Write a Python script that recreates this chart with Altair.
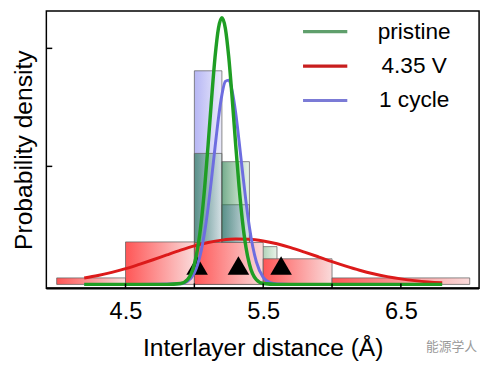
import altair as alt
import pandas as pd

# ---------------- data ----------------
# histogram bins (interlayer distance, Å) and heights (arb. density units)
red_start = [4.0, 4.5, 5.0, 5.5, 6.0]
red_end = [4.5, 5.0, 5.5, 6.0, 7.0]
red_h = [0.055, 0.36, 0.355, 0.217, 0.055]

green_start = [5.0, 5.2, 5.4]
green_end = [5.2, 5.4, 5.6]
green_h = [1.11, 1.04, 0.32]

blue_start = [5.0, 5.2]
blue_end = [5.2, 5.4]
blue_h = [1.81, 0.675]

# fitted curves
red_x = [4.2, 4.3, 4.4, 4.5, 4.6, 4.7, 4.8, 4.9, 5.0, 5.1, 5.2, 5.3, 5.4, 5.5,
         5.6, 5.7, 5.8, 5.9, 6.0, 6.1, 6.2, 6.3, 6.4, 6.5, 6.6, 6.7, 6.8]
red_y = [0.054, 0.075, 0.102, 0.133, 0.170, 0.209, 0.250, 0.290, 0.326, 0.355,
         0.375, 0.384, 0.382, 0.368, 0.344, 0.312, 0.274, 0.234, 0.193, 0.155,
         0.120, 0.090, 0.066, 0.047, 0.032, 0.021, 0.014]

green_x = [4.2, 4.5, 4.8, 4.9, 4.95, 5.0, 5.025, 5.05, 5.075, 5.1, 5.125, 5.15,
           5.175, 5.2, 5.225, 5.25, 5.275, 5.3, 5.325, 5.35, 5.375, 5.4, 5.45,
           5.5, 5.6, 6.0, 6.5, 6.8]
green_y = [0.0, 0.0, 0.0, 0.007, 0.040, 0.171, 0.313, 0.529, 0.824, 1.185, 1.572,
           1.923, 2.171, 2.26, 2.171, 1.923, 1.572, 1.185, 0.824, 0.529, 0.313,
           0.171, 0.040, 0.007, 0.0, 0.0, 0.0, 0.0]

blue_x = [4.2, 4.6, 4.9, 4.95, 5.0, 5.025, 5.05, 5.075, 5.1, 5.125, 5.15, 5.175,
          5.2, 5.225, 5.25, 5.275, 5.3, 5.325, 5.35, 5.375, 5.4, 5.425, 5.45,
          5.5, 5.55, 5.6, 5.7, 6.0]
blue_y = [0.0, 0.0, 0.005, 0.026, 0.098, 0.173, 0.286, 0.446, 0.653, 0.898,
          1.160, 1.409, 1.606, 1.720, 1.731, 1.636, 1.454, 1.212, 0.950, 0.700,
          0.484, 0.314, 0.192, 0.059, 0.014, 0.003, 0.0, 0.0]

# mean markers
tri_x = [5.02, 5.32, 5.63]
tri_y = [0.16, 0.16, 0.16]

x_ticks = [4.5, 5.0, 5.5, 6.0, 6.5]
x_labels = [4.5, 5.5, 6.5]
y_ticks = [1, 2]

legend_labels = ["pristine", "4.35 V", "1 cycle"]
legend_colors = ["#5f9f6c", "#c81e1e", "#7b7bd6"]

FONT = "Liberation Sans"

# ---------------- scales / axes ----------------
xs = alt.Scale(domain=[3.925, 7.068], nice=False, zero=False)
ys = alt.Scale(domain=[-0.0333, 2.3167], nice=False, zero=False)

X_TITLE = "Interlayer distance (Å)"
Y_TITLE = "Probability density"

x_axis = alt.Axis(values=x_labels, format=".1f", ticks=False, domain=False,
                  grid=False, labelFontSize=24, labelFont=FONT,
                  labelColor="black", labelPadding=12,
                  titleFontSize=25, titleFont=FONT, titleFontWeight="normal",
                  titleColor="black", titlePadding=12)
y_axis = alt.Axis(labels=False, ticks=False, domain=False, grid=False,
                  titleFontSize=25, titleFont=FONT, titleFontWeight="normal",
                  titleColor="black", titlePadding=10)


def X(field):
    return alt.X(field, scale=xs, axis=x_axis, title=X_TITLE)


def Y(field):
    return alt.Y(field, scale=ys, axis=y_axis, title=Y_TITLE)


def grad(c0, c1):
    return alt.Gradient(gradient="linear",
                        stops=[alt.GradientStop(color=c0, offset=0),
                               alt.GradientStop(color=c1, offset=1)],
                        x1=0, x2=1, y1=0, y2=0)


def hist(starts, ends, heights, fill):
    df = pd.DataFrame({"x0": starts, "x1": ends, "h": heights,
                       "b": [0.0] * len(starts)})
    return alt.Chart(df).mark_rect(color=fill, stroke="#5a5a5a",
                                   strokeWidth=0.9, strokeOpacity=0.8).encode(
        x=X("x0:Q"), x2="x1:Q", y=Y("b:Q"), y2="h:Q")


blue_hist = hist(blue_start, blue_end, blue_h, grad("#b6b6f4", "#ebebfb"))
green_hist = hist(green_start, green_end, green_h,
                  grad("rgba(30,120,70,0.62)", "rgba(60,150,70,0.12)"))
red_hist = hist(red_start, red_end, red_h, grad("#ff5656", "#fadada"))


def curve(xv, yv, color, w):
    df = pd.DataFrame({"x": xv, "y": yv})
    return alt.Chart(df).mark_line(color=color, strokeWidth=w,
                                   interpolate="monotone").encode(
        x=X("x:Q"), y=Y("y:Q"))


red_line = curve(red_x, red_y, "#dc1a1a", 3)
blue_line = curve(blue_x, blue_y, "#6d6de0", 3)
green_line = curve(green_x, green_y, "#1f9e24", 3.5)

tri = alt.Chart(pd.DataFrame({"x": tri_x, "y": tri_y})).mark_point(
    shape="triangle-up", filled=True, color="black", opacity=1, size=480
).encode(x=X("x:Q"), y=Y("y:Q"))

# inward ticks
xt = alt.Chart(pd.DataFrame({"x": x_ticks})).mark_rule(
    color="black", strokeWidth=1.5).encode(
    x=X("x:Q"), y=alt.value(277), y2=alt.value(282))
yt = alt.Chart(pd.DataFrame({"y": y_ticks})).mark_rule(
    color="black", strokeWidth=1.5).encode(
    y=Y("y:Q"), x=alt.value(0), x2=alt.value(6))

one = pd.DataFrame({"a": [0]})
# bottom axis line a bit heavier
base = alt.Chart(one).mark_rule(color="black", strokeWidth=2.2).encode(
    x=alt.value(0), x2=alt.value(440), y=alt.value(282))

# legend
leg_layers = []
leg_y = [21, 56, 91]
for lab, col, yy in zip(legend_labels, legend_colors, leg_y):
    leg_layers.append(alt.Chart(one).mark_rule(color=col, strokeWidth=3.2).encode(
        x=alt.value(261), x2=alt.value(306), y=alt.value(yy)))
    leg_layers.append(alt.Chart(one).mark_text(
        text=lab, font=FONT, fontSize=23, color="black", align="center",
        baseline="middle").encode(x=alt.value(374), y=alt.value(yy)))

wm = alt.Chart(one).mark_text(
    text="能源学人", font="Noto Sans CJK SC", fontSize=13, color="#9a9a9a",
    align="center", baseline="middle").encode(x=alt.value(412), y=alt.value(342))

chart = alt.layer(
    blue_hist, green_hist, red_hist, tri, red_line, blue_line, green_line,
    xt, yt, base, *leg_layers, wm
).properties(
    width=440, height=282,
    autosize=alt.AutoSizeParams(type="none"),
    padding={"left": 39, "top": 0, "right": 5, "bottom": 79},
).configure_view(stroke="black", strokeWidth=1.5)

chart.save("out.html", embed_options={"renderer": "svg", "actions": False})
